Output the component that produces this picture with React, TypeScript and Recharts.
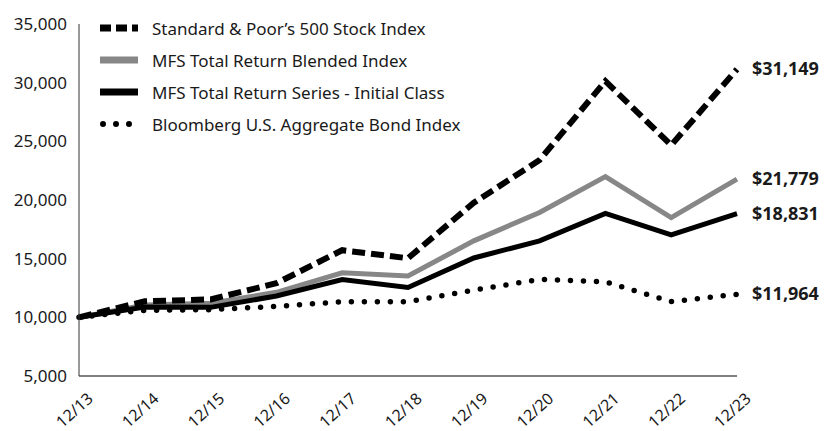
import React from 'react';
import { LineChart, Line, XAxis, YAxis, LabelList } from 'recharts';

const years = ['12/13', '12/14', '12/15', '12/16', '12/17', '12/18', '12/19', '12/20', '12/21', '12/22', '12/23'];
const sp500 = [10000, 11369, 11526, 12905, 15722, 15034, 19768, 23406, 30125, 24669, 31149];
const blended = [10000, 11060, 11200, 12130, 13800, 13530, 16520, 18940, 21990, 18500, 21779];
const series = [10000, 10880, 10850, 11820, 13220, 12540, 15060, 16520, 18860, 17030, 18831];
const bond = [10000, 10597, 10655, 10938, 11325, 11326, 12314, 13239, 13035, 11339, 11964];
const yTicks = [5000, 10000, 15000, 20000, 25000, 30000, 35000];

const data = years.map((year, i) => ({
  year,
  sp500: sp500[i],
  blended: blended[i],
  series: series[i],
  bond: bond[i],
}));

const FONT = '"Noto Sans", sans-serif';
const LAST = years.length - 1;

const legendItems = [
  { name: "Standard & Poor\u2019s 500 Stock Index", color: '#000', dash: '11 5', cap: 'butt' },
  { name: 'MFS Total Return Blended Index', color: '#878787', dash: undefined, cap: 'butt' },
  { name: 'MFS Total Return Series - Initial Class', color: '#000', dash: undefined, cap: 'butt' },
  { name: 'Bloomberg U.S. Aggregate Bond Index', color: '#000', dash: '0 13', cap: 'round' },
];

// legend sits over the empty top-left corner of the plot
const ChartLegend = () => (
  <div
    style={{
      position: 'absolute',
      left: 100,
      top: 12,
      fontFamily: FONT,
      fontSize: 17,
      color: '#1a1a1a',
      lineHeight: 1,
    }}
  >
    {legendItems.map((item) => (
      <div key={item.name} style={{ display: 'flex', alignItems: 'center', height: 32 }}>
        <svg width={52} height={12}>
          <line
            x1={item.cap === 'round' ? 3 : 0}
            y1={6}
            x2={item.cap === 'round' ? 40 : 38}
            y2={6}
            stroke={item.color}
            strokeWidth={item.cap === 'round' ? 6 : 7}
            strokeDasharray={item.dash}
            strokeLinecap={item.cap as any}
          />
        </svg>
        <span style={{ whiteSpace: 'nowrap' }}>{item.name}</span>
      </div>
    ))}
  </div>
);

const XTick = ({ x, y, payload }: any) => (
  <text
    x={x + 15}
    y={y + 24}
    transform={`rotate(-42, ${x + 15}, ${y + 24})`}
    textAnchor="end"
    fontFamily={FONT}
    fontSize={16}
    fill="#1a1a1a"
  >
    {payload.value}
  </text>
);

const endLabel = (props: any) => {
  const { x, y, value, index } = props;
  if (index !== LAST) return null;
  return (
    <text
      x={x + 15}
      y={y}
      dy={6}
      fontFamily={FONT}
      fontSize={18}
      fontWeight="bold"
      fill="#1a1a1a"
    >
      {`$${Number(value).toLocaleString('en-US')}`}
    </text>
  );
};

export default function App() {
  return (
    <div style={{ position: 'absolute', left: 0, top: 0, width: 829, height: 431, background: '#fff' }}>
      <LineChart
        width={829}
        height={431}
        data={data}
        margin={{ top: 24, right: 92, left: 0, bottom: 0 }}
      >
        <XAxis
          dataKey="year"
          interval={0}
          tickLine={false}
          tickSize={0}
          tickMargin={0}
          axisLine={{ stroke: '#555', strokeWidth: 1.5 }}
          tick={<XTick />}
          height={55}
        />
        <YAxis
          domain={[5000, 35000]}
          ticks={yTicks}
          width={79}
          tickLine={false}
          tickSize={0}
          tickMargin={12}
          axisLine={{ stroke: '#333', strokeWidth: 1 }}
          tickFormatter={(v: number) => v.toLocaleString('en-US')}
          tick={{ fontFamily: FONT, fontSize: 17, fill: '#1a1a1a' }}
        />
        <Line
          dataKey="bond"
          stroke="#000"
          strokeWidth={5.5}
          strokeDasharray="0 13"
          strokeLinecap="round"
          dot={false}
          activeDot={false}
          isAnimationActive={false}
        >
          <LabelList dataKey="bond" content={endLabel} />
        </Line>
        <Line
          dataKey="blended"
          stroke="#878787"
          strokeWidth={5}
          dot={false}
          activeDot={false}
          isAnimationActive={false}
        >
          <LabelList dataKey="blended" content={endLabel} />
        </Line>
        <Line
          dataKey="series"
          stroke="#000"
          strokeWidth={5}
          dot={false}
          activeDot={false}
          isAnimationActive={false}
        >
          <LabelList dataKey="series" content={endLabel} />
        </Line>
        <Line
          dataKey="sp500"
          stroke="#000"
          strokeWidth={6}
          strokeDasharray="13 6"
          dot={false}
          activeDot={false}
          isAnimationActive={false}
        >
          <LabelList dataKey="sp500" content={endLabel} />
        </Line>
      </LineChart>
      <ChartLegend />
    </div>
  );
}
